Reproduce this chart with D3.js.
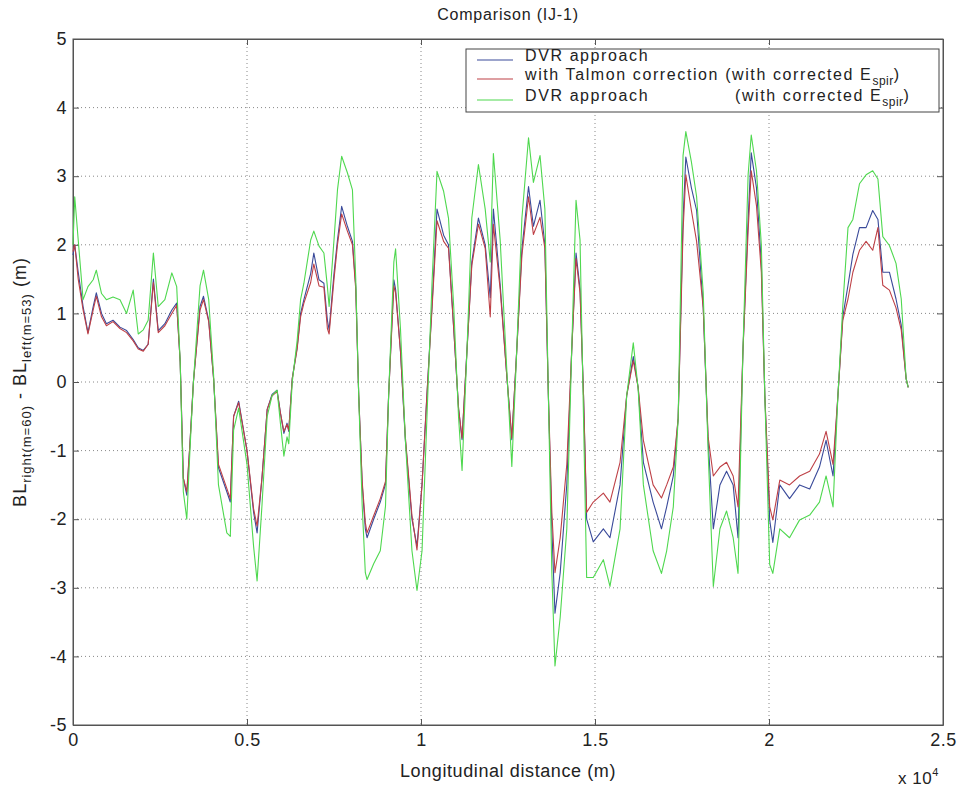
<!DOCTYPE html>
<html>
<head>
<meta charset="utf-8">
<script src="https://cdn.jsdelivr.net/npm/d3@7"></script>
<style>
  body { margin: 0; background: #fff; }
  svg text { font-family: "Liberation Sans", Arial, sans-serif; fill: #222; }
</style>
</head>
<body>
<script>
// distance along the track (m)
var distance = [0, 50, 150, 290, 430, 580, 670, 820, 960, 1150, 1350, 1540, 1730, 1875, 2020, 2160, 2310, 2450, 2640, 2840,
  2980, 3080, 3170, 3270, 3360, 3460, 3650, 3750, 3900, 4040, 4180, 4420, 4520, 4615, 4760, 5000, 5190, 5290, 5430, 5580,
  5720, 5865, 5960, 6060, 6150, 6200, 6300, 6440, 6540, 6635, 6830, 6920, 7070, 7210, 7310, 7360, 7500, 7600, 7720, 7885,
  8030, 8125, 8210, 8310, 8400, 8450, 8640, 8830, 8980, 9070, 9220, 9270, 9410, 9550, 9740, 9885, 10030, 10170, 10315, 10460,
  10650, 10790, 10940, 11080, 11180, 11320, 11460, 11650, 11845, 11990, 12080, 12275, 12470, 12610, 12750, 12900, 13090, 13230, 13420, 13560,
  13660, 13760, 13850, 14000, 14190, 14330, 14455, 14570, 14670, 14760, 14950, 15240, 15430, 15720, 15910, 16100, 16240, 16390, 16670, 16910,
  17060, 17250, 17390, 17530, 17610, 17770, 17920, 18110, 18250, 18400, 18590, 18780, 18970, 19110, 19250, 19400, 19490, 19640, 19780, 19880,
  20020, 20110, 20310, 20590, 20880, 21170, 21450, 21640, 21840, 21980, 22120, 22270, 22410, 22600, 22790, 22980, 23130, 23270, 23460, 23650,
  23800, 23940, 24000];

// DVR approach
var dvr = [1.85, 2.0, 1.6, 1.1, 0.72, 1.1, 1.3, 1.0, 0.85, 0.9, 0.8, 0.75, 0.62, 0.5, 0.46, 0.55, 1.5, 0.75, 0.85, 1.05,
  1.15, 0.3, -1.4, -1.65, -0.9, 0.0, 1.1, 1.25, 0.9, 0.05, -1.25, -1.6, -1.75, -0.5, -0.28, -1.0, -1.9, -2.2, -1.4, -0.4,
  -0.18, -0.12, -0.45, -0.75, -0.6, -0.72, 0.05, 0.5, 1.0, 1.2, 1.58, 1.88, 1.49, 1.44, 0.9, 0.76, 1.58, 2.07, 2.56, 2.27,
  2.05, 1.4, -0.19, -1.49, -2.14, -2.27, -2.0, -1.75, -1.49, -0.19, 1.49, 1.35, 0.45, -0.84, -2.0, -2.39, -1.49, -0.19, 1.1, 2.52,
  2.14, 2.0, 0.78, -0.39, -0.84, 0.45, 1.75, 2.39, 2.0, 1.23, 2.52, 1.42, 0.06, -0.84, 0.45, 1.94, 2.85, 2.27, 2.65, 2.0,
  -0.19, -2.14, -3.37, -2.78, -1.49, 0.45, 1.88, 1.36, -0.19, -2.0, -2.33, -2.14, -2.27, -1.5, -0.2, 0.37, -0.08, -1.17, -1.75, -2.14,
  -1.82, -1.37, -0.53, 2.37, 3.28, 2.83, 2.5, 1.08, -0.85, -2.14, -1.5, -1.3, -1.5, -2.27, 0.44, 2.37, 3.34, 2.83, 1.73, -0.2,
  -2.01, -2.34, -1.5, -1.7, -1.5, -1.56, -1.24, -0.85, -1.37, -0.2, 0.95, 1.41, 1.86, 2.25, 2.25, 2.5, 2.37, 1.6, 1.6, 1.21,
  0.83, 0.05, -0.08];

// with Talmon correction
var talmon = [1.9, 2.0, 1.5, 1.05, 0.7, 1.05, 1.25, 0.95, 0.82, 0.88, 0.78, 0.72, 0.6, 0.48, 0.45, 0.55, 1.45, 0.72, 0.82, 1.0,
  1.12, 0.3, -1.4, -1.6, -0.9, 0.0, 1.05, 1.2, 0.88, 0.05, -1.2, -1.55, -1.7, -0.5, -0.3, -1.0, -1.85, -2.1, -1.4, -0.4,
  -0.2, -0.14, -0.45, -0.72, -0.62, -0.7, 0.05, 0.48, 0.95, 1.15, 1.45, 1.72, 1.4, 1.38, 0.78, 0.7, 1.5, 2.0, 2.45, 2.2,
  2.0, 1.35, -0.19, -1.45, -2.05, -2.2, -1.95, -1.7, -1.45, -0.19, 1.4, 1.3, 0.45, -0.8, -1.95, -2.45, -1.5, -0.19, 1.05, 2.35,
  2.05, 1.95, 0.78, -0.39, -0.82, 0.45, 1.7, 2.3, 1.95, 0.95, 2.3, 1.35, 0.06, -0.82, 0.45, 1.85, 2.7, 2.15, 2.4, 1.95,
  -0.19, -1.9, -2.78, -2.27, -1.2, 0.45, 1.8, 1.3, -0.19, -1.9, -1.75, -1.62, -1.75, -1.17, -0.2, 0.31, -0.08, -0.85, -1.5, -1.69,
  -1.5, -1.24, -0.53, 2.2, 3.02, 2.5, 2.05, 1.08, -0.8, -1.37, -1.24, -1.17, -1.37, -1.82, 0.44, 2.2, 3.08, 2.57, 1.6, -0.2,
  -1.82, -2.01, -1.43, -1.5, -1.37, -1.3, -1.05, -0.72, -1.2, -0.2, 0.9, 1.21, 1.6, 1.92, 2.05, 1.92, 2.25, 1.41, 1.34, 1.08,
  0.76, 0.05, -0.08];

// DVR approach (with corrected E_spir)
var dvrCorrected = [2.0, 2.7, 2.07, 1.2, 1.39, 1.49, 1.63, 1.29, 1.2, 1.24, 1.2, 1.0, 1.34, 0.7, 0.76, 0.9, 1.88, 1.1, 1.2, 1.59,
  1.39, 0.3, -1.6, -2.0, -1.0, 0.0, 1.4, 1.63, 1.2, 0.1, -1.5, -2.2, -2.25, -0.7, -0.38, -1.2, -2.4, -2.9, -1.8, -0.5,
  -0.2, -0.12, -0.6, -1.08, -0.8, -0.9, 0.0, 0.6, 1.2, 1.44, 2.07, 2.2, 1.98, 1.88, 1.39, 1.1, 2.07, 2.8, 3.29, 3.05,
  2.8, 1.5, -0.2, -1.8, -2.78, -2.88, -2.65, -2.46, -1.81, -0.19, 1.75, 1.94, 0.78, -0.84, -2.46, -3.04, -2.46, -0.52, 1.42, 3.07,
  2.78, 2.39, 1.1, -0.52, -1.29, 0.45, 2.39, 3.17, 2.52, 1.75, 3.33, 2.07, 0.13, -1.23, 0.45, 2.39, 3.56, 2.91, 3.3, 2.52,
  -0.19, -2.78, -4.14, -3.43, -2.14, 0.45, 2.65, 2.07, -0.52, -2.85, -2.85, -2.59, -2.98, -2.14, -0.2, 0.57, -0.1, -1.5, -2.46, -2.79,
  -2.46, -1.82, -0.53, 3.3, 3.65, 3.21, 2.7, 1.3, -1.0, -2.98, -2.14, -1.88, -2.27, -2.79, 0.44, 3.02, 3.6, 3.08, 2.0, -0.2,
  -2.66, -2.79, -2.14, -2.27, -2.01, -1.94, -1.75, -1.37, -1.82, -0.2, 1.1, 2.25, 2.37, 2.89, 3.02, 3.08, 2.96, 2.12, 1.99, 1.73,
  1.21, 0.05, -0.08];

var xTicks = [0, 5000, 10000, 15000, 20000, 25000];
var xTickLabels = ["0", "0.5", "1", "1.5", "2", "2.5"];
var yTicks = [-5, -4, -3, -2, -1, 0, 1, 2, 3, 4, 5];

var series = [
  {name: "DVR approach", values: dvr, color: "#3a4a9a"},
  {name: "with Talmon correction", values: talmon, color: "#be4046"},
  {name: "DVR approach (corrected)", values: dvrCorrected, color: "#4fd84f"}
];

var width = 957, height = 787;
var margin = {left: 73, right: 14, top: 39, bottom: 62};
var w = width - margin.left - margin.right;
var h = height - margin.top - margin.bottom;

var svg = d3.select("body").append("svg")
  .attr("width", width)
  .attr("height", height);

var x = d3.scaleLinear().domain([0, 25000]).range([0, w]);
var y = d3.scaleLinear().domain([-5, 5]).range([h, 0]);

var g = svg.append("g")
  .attr("transform", "translate(" + margin.left + "," + margin.top + ")");

// grid
g.selectAll(".vgrid")
  .data(xTicks.slice(1, -1))
  .enter().append("line")
  .attr("x1", d => x(d)).attr("x2", d => x(d))
  .attr("y1", 0).attr("y2", h)
  .attr("stroke", "#888").attr("stroke-width", 1)
  .attr("stroke-dasharray", "1,3");

g.selectAll(".hgrid")
  .data(yTicks.slice(1, -1))
  .enter().append("line")
  .attr("x1", 0).attr("x2", w)
  .attr("y1", d => y(d)).attr("y2", d => y(d))
  .attr("stroke", "#888").attr("stroke-width", 1)
  .attr("stroke-dasharray", "1,3");

// axes, ticks drawn inward like matlab
var xAxis = d3.axisBottom(x).tickValues(xTicks)
  .tickFormat((d, i) => xTickLabels[i]).tickSizeInner(-6).tickSizeOuter(0).tickPadding(8);
var yAxis = d3.axisLeft(y).tickValues(yTicks)
  .tickFormat(d => String(d)).tickSizeInner(-6).tickSizeOuter(0).tickPadding(6);

g.append("g").attr("transform", "translate(0," + h + ")").call(xAxis);
g.append("g").call(yAxis);
g.append("g").call(d3.axisTop(x).tickValues(xTicks).tickFormat("").tickSizeInner(-6).tickSizeOuter(0));
g.append("g").attr("transform", "translate(" + w + ",0)")
  .call(d3.axisRight(y).tickValues(yTicks).tickFormat("").tickSizeInner(-6).tickSizeOuter(0));

g.selectAll(".domain").attr("stroke", "#555");
g.selectAll(".tick line").attr("stroke", "#555");
g.selectAll(".tick text")
  .style("font-size", "18px")
  .style("letter-spacing", "0.5px")
  .attr("fill", "#222");

g.append("rect")
  .attr("width", w).attr("height", h)
  .attr("fill", "none").attr("stroke", "#555");

// data lines
var line = d3.line()
  .x((d, i) => x(distance[i]))
  .y(d => y(d));

g.selectAll(".series")
  .data(series)
  .enter().append("path")
  .attr("class", "series")
  .attr("d", d => line(d.values))
  .attr("fill", "none")
  .attr("stroke", d => d.color)
  .attr("stroke-width", 1.1)
  .attr("stroke-linejoin", "round");

// legend
var legend = svg.append("g").attr("transform", "translate(466,49)");
legend.append("rect")
  .attr("width", 473).attr("height", 63)
  .attr("fill", "#fff").attr("stroke", "#444");

var rowY = [11, 30, 51];
legend.selectAll(".lline")
  .data(series)
  .enter().append("line")
  .attr("x1", 11).attr("x2", 47)
  .attr("y1", (d, i) => rowY[i]).attr("y2", (d, i) => rowY[i])
  .attr("stroke", d => d.color).attr("stroke-width", 1.1);

function styleText(t) {
  return t.style("font-size", "16px").style("letter-spacing", "1.6px");
}
styleText(legend.append("text").attr("x", 59).attr("y", 12)).text("DVR approach");
var t2 = styleText(legend.append("text").attr("x", 59).attr("y", 31));
t2.append("tspan").text("with Talmon correction (with corrected E");
t2.append("tspan").attr("dy", 5).style("font-size", "12px").style("letter-spacing", "0.5px").text("spir");
t2.append("tspan").attr("dy", -5).text(")");
styleText(legend.append("text").attr("x", 59).attr("y", 52)).text("DVR approach");
var t3 = styleText(legend.append("text").attr("x", 269).attr("y", 52));
t3.append("tspan").text("(with corrected E");
t3.append("tspan").attr("dy", 5).style("font-size", "12px").style("letter-spacing", "0.5px").text("spir");
t3.append("tspan").attr("dy", -5).text(")");

// title and labels
svg.append("text")
  .attr("x", margin.left + w / 2).attr("y", 20)
  .attr("text-anchor", "middle")
  .style("font-size", "16px").style("letter-spacing", "0.8px")
  .text("Comparison (IJ-1)");

svg.append("text")
  .attr("x", margin.left + w / 2).attr("y", 777)
  .attr("text-anchor", "middle")
  .style("font-size", "18px").style("letter-spacing", "0.6px")
  .text("Longitudinal distance (m)");

var ex = svg.append("text").attr("x", 898).attr("y", 784)
  .style("font-size", "17px").style("letter-spacing", "0.5px");
ex.append("tspan").text("x 10");
ex.append("tspan").attr("dy", -8).style("font-size", "11px").text("4");

var yl = svg.append("text")
  .attr("transform", "translate(26," + (margin.top + h / 2) + ") rotate(-90)")
  .attr("text-anchor", "middle")
  .style("font-size", "18px").style("letter-spacing", "1px");
yl.append("tspan").text("BL");
yl.append("tspan").attr("dy", 5).style("font-size", "13px").text("right(m=60)");
yl.append("tspan").attr("dy", -5).text(" - BL");
yl.append("tspan").attr("dy", 5).style("font-size", "13px").text("left(m=53)");
yl.append("tspan").attr("dy", -5).text(" (m)");
</script>
</body>
</html>
